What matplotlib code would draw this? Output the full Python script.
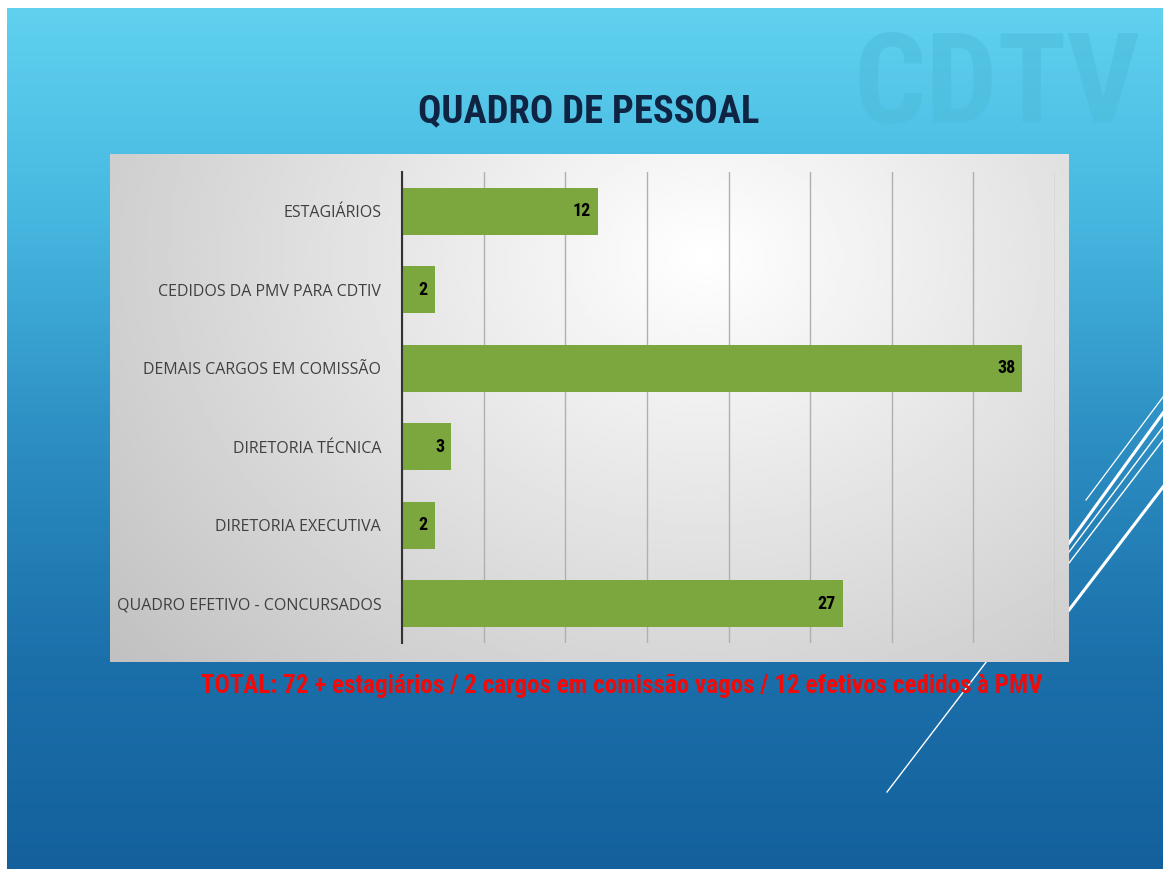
import numpy as np
import matplotlib.pyplot as plt
from matplotlib import font_manager
from matplotlib.colors import LinearSegmentedColormap

# dados do quadro de pessoal
categorias = ["QUADRO EFETIVO - CONCURSADOS", "DIRETORIA EXECUTIVA", "DIRETORIA TÉCNICA",
              "DEMAIS CARGOS EM COMISSÃO", "CEDIDOS DA PMV PARA CDTIV", "ESTAGIÁRIOS"]
valores = [27, 2, 3, 38, 2, 12]

titulo = "QUADRO DE PESSOAL"
rodape = "TOTAL: 72 + estagiários / 2 cargos em comissão vagos / 12 efetivos cedidos à PMV"

# fonte condensada, se houver
nomes = {f.name for f in font_manager.fontManager.ttflist}
condensada = "DejaVu Sans"
for nome in ["Roboto Condensed", "DejaVu Sans Condensed", "Liberation Sans Narrow", "Open Sans Condensed", "Roboto"]:
    if nome in nomes:
        condensada = nome
        break

W, H = 1163, 871
fig = plt.figure(figsize=(W / 100, H / 100), dpi=100, facecolor="white")
renderer = fig.canvas.get_renderer()


def ajusta_largura(t, largura):
    # reduz/aumenta o tamanho da fonte até a largura desejada (pixels)
    for _ in range(3):
        bb = t.get_window_extent(renderer=renderer)
        t.set_fontsize(t.get_fontsize() * largura / bb.width)


# fundo do slide (coordenadas em pixels)
bg = fig.add_axes([0, 0, 1, 1])
bg.set_xlim(0, W)
bg.set_ylim(H, 0)
bg.axis("off")

azul = LinearSegmentedColormap.from_list("azul", ["#63d4f0", "#47b9e1", "#2d8fc3", "#1b70aa", "#135f9c"])
yy, xx = np.mgrid[0:1:200j, 0:1:200j]
grad = yy * 0.95 + 0.03
bg.imshow(np.clip(grad, 0, 1), cmap=azul, extent=(7, W, 869, 9), aspect="auto", zorder=0, vmin=0, vmax=1)

# linhas decorativas
bg.plot([1069, 1163], [610, 487], color="white", lw=2.2, zorder=1)
bg.plot([1069, 1163], [543, 413], color="white", lw=2.2, zorder=1)
bg.plot([1069, 1163], [552, 427], color="white", lw=1.0, zorder=1)
bg.plot([1069, 1163], [563, 440], color="white", lw=1.0, zorder=1)
bg.plot([1086, 1163], [500, 397], color="white", lw=0.9, zorder=1)
bg.plot([887, 990], [792, 657], color="white", lw=1.0, zorder=1)

# logo esmaecido
logo = bg.text(997, 88, "CDTV", fontsize=80, fontweight="bold", color="#4dbcdc", alpha=0.55,
               ha="center", va="center", family=condensada, zorder=1)
ajusta_largura(logo, 287)

# painel cinza do gráfico
py, px = np.mgrid[0:1:200j, 0:1:300j]
dist = np.sqrt(((px - 0.62) / 0.8) ** 2 + ((py - 0.2) / 1.2) ** 2)
painel = np.clip(1 - 0.24 * dist, 0, 1)
bg.imshow(painel, cmap="gray", vmin=0, vmax=1, extent=(110, 1069, 662, 155), aspect="auto", zorder=2)

tit = bg.text(589, 112, titulo, fontsize=31, fontweight="bold", color="#0e2442", ha="center", va="center",
              family=condensada, zorder=3)
ajusta_largura(tit, 342)
rod = bg.text(622, 686, rodape, fontsize=18, fontweight="bold", color="#f00a0a", ha="center", va="center",
              family=condensada, zorder=3)
ajusta_largura(rod, 846)

# gráfico de barras
ax = fig.add_axes([402 / W, 1 - 643 / H, (1055 - 402) / W, (643 - 172) / H])
ax.patch.set_alpha(0)
y = np.arange(len(categorias))
ax.barh(y, valores, height=0.6, color="#7ba73e", zorder=2)
for i, v in enumerate(valores):
    ax.annotate(str(v), (v, i), xytext=(-5, 0), textcoords="offset points", ha="right", va="center",
                fontsize=13, fontweight="bold", color="black", family=condensada)

ax.set_xlim(0, 40)
ax.set_ylim(-0.5, 5.5)
ax.set_xticks(np.arange(0, 41, 5))
ax.set_xticklabels([])
ax.set_yticks(y)
ax.set_yticklabels(categorias, fontsize=11.5, color="#404040", family=["Open Sans", "DejaVu Sans"])
ax.tick_params(axis="y", length=0, pad=15)
ax.tick_params(axis="x", length=0)
ax.grid(axis="x", color="#b0b0b0", lw=1, zorder=0)
for s in ["top", "right", "bottom"]:
    ax.spines[s].set_visible(False)
ax.spines["left"].set_color("#333333")
ax.spines["left"].set_linewidth(1.5)
ax.spines["left"].set_zorder(3)

fig.savefig("out.png", dpi=100, facecolor="white")
